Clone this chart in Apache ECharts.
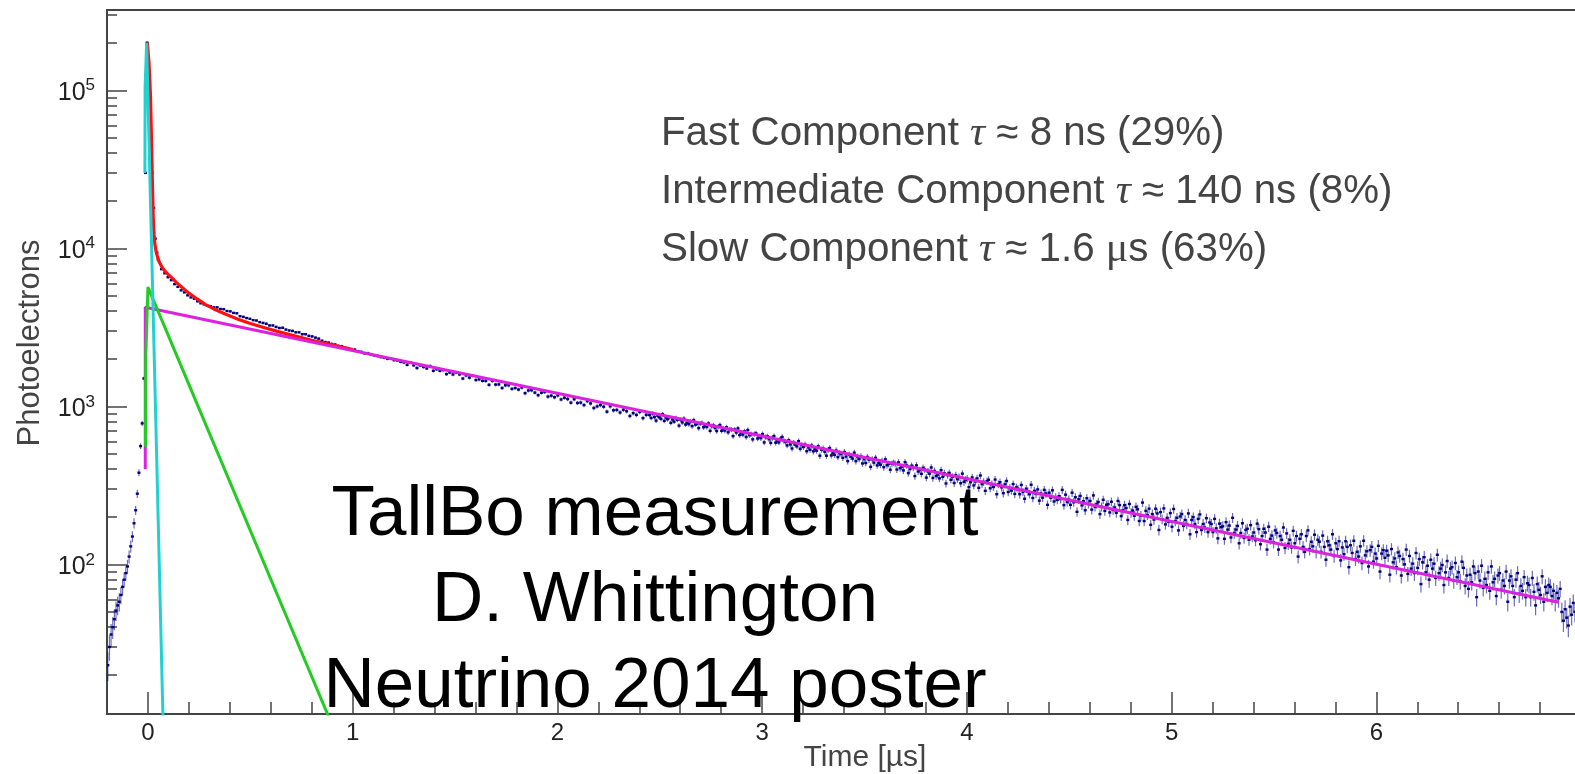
<!DOCTYPE html>
<html>
<head>
<meta charset="utf-8">
<script src="https://cdn.jsdelivr.net/npm/echarts@6/dist/echarts.min.js"></script>
<style>
  html, body { margin: 0; padding: 0; background: #fff; overflow: hidden; width: 1575px; height: 774px; }
  #chart { width: 1700px; height: 774px; }
</style>
</head>
<body>
<div id="chart"></div>
<script>
// Rising edge and prompt peak, 8 ns bins: [time (µs), photoelectrons]
const riseBins = [
  [-0.196, 23], [-0.188, 30], [-0.180, 36], [-0.172, 40], [-0.164, 45],
  [-0.156, 51], [-0.148, 55], [-0.140, 58], [-0.132, 64], [-0.124, 72],
  [-0.116, 80], [-0.108, 88], [-0.100, 97], [-0.092, 112], [-0.084, 130],
  [-0.076, 150], [-0.068, 182], [-0.060, 220], [-0.052, 280], [-0.044, 380],
  [-0.036, 560], [-0.028, 780], [-0.020, 1500], [-0.012, 30000], [-0.004, 200000],
  [0.004, 110000], [0.012, 60000], [0.020, 30000], [0.028, 18000], [0.036, 11500],
  [0.044, 9400]
];

// Early decay: first bin centre (µs), bin width (µs), bin contents
const earlyStart = 0.05;
const earlyStep = 0.016;
const earlyCounts = [
  8450, 7380, 6950, 6560, 6290, 5930, 5700, 5420, 5260, 5040, 4890, 4800, 4620, 4490, 4420, 4330, 4300, 4230, 4230, 4130, 4120, 4010, 3990, 3900, 3880,
  3720, 3680, 3620, 3580, 3510, 3490, 3410, 3370, 3330, 3250, 3250, 3180, 3130, 3140, 3060, 3020, 3000, 2940, 2940, 2860, 2860, 2790, 2770, 2720, 2680,
  2600, 2550, 2530, 2480, 2460, 2410, 2400, 2350, 2330, 2280, 2285, 2230, 2210, 2165, 2170, 2120, 2100, 2080, 2050, 2030, 2000, 2005, 1960, 1950, 1915,
  1896, 1831, 1894, 1818, 1748, 1813, 1774, 1737, 1799, 1678, 1717, 1677, 1696, 1599, 1636, 1591, 1634, 1592, 1499, 1569, 1519, 1560, 1467, 1482, 1450,
  1449, 1368, 1449, 1373, 1376, 1306, 1359, 1358, 1289, 1305, 1277, 1315, 1211, 1260, 1264, 1221, 1176, 1220, 1233, 1152, 1168, 1141, 1172, 1105, 1133,
  1112, 1055, 1109, 1050, 1056, 1018, 1078, 1043, 976, 999, 1018, 994, 925, 1001, 944, 949, 914, 952, 931, 869, 905, 883, 922, 842, 883
];

// Late light: first bin centre (µs), bin width (µs), bin contents
const lateStart = 2.45;
const lateStep = 0.008;
const lateCounts = [
  881, 844, 900, 855, 812, 871, 852, 834, 892, 809, 850, 828, 853, 786, 826, 800, 844, 821, 755, 823, 791, 835, 767, 789, 771,
  804, 749, 818, 767, 776, 728, 778, 785, 737, 757, 740, 779, 700, 749, 758, 729, 698, 744, 761, 700, 720, 703, 737, 685, 716,
  713, 648, 713, 683, 725, 658, 680, 662, 694, 640, 708, 657, 666, 618, 667, 674, 626, 646, 629, 667, 591, 637, 646, 619, 587,
  631, 648, 589, 606, 591, 624, 640, 604, 596, 566, 610, 574, 541, 587, 572, 558, 602, 539, 569, 553, 572, 520, 550, 531, 565,
  519, 538, 524, 559, 487, 532, 541, 516, 487, 529, 544, 489, 507, 493, 525, 477, 506, 499, 472, 514, 481, 450, 493, 480, 467,
  509, 450, 480, 464, 483, 435, 463, 438, 478, 460, 414, 462, 440, 472, 423, 439, 427, 451, 412, 462, 424, 432, 397, 433, 439,
  433, 398, 442, 406, 415, 393, 443, 423, 378, 401, 421, 408, 362, 423, 387, 395, 374, 408, 398, 354, 387, 375, 410, 352, 390,
  362, 370, 350, 394, 358, 377, 325, 367, 379, 343, 358, 327, 367, 346, 357, 326, 375, 333, 342, 349, 308, 331, 355, 316, 335,
  350, 305, 365, 322, 332, 292, 336, 343, 303, 322, 309, 344, 278, 321, 331, 307, 282, 321, 337, 287, 304, 293, 322, 279, 307,
  301, 278, 318, 287, 260, 301, 289, 278, 319, 263, 292, 279, 298, 253, 281, 264, 296, 281, 238, 284, 264, 294, 250, 266, 256,
  270, 259, 296, 237, 276, 248, 257, 238, 284, 247, 266, 215, 258, 271, 236, 251, 220, 262, 241, 252, 222, 273, 231, 240, 248,
  208, 231, 256, 218, 238, 240, 213, 249, 221, 229, 212, 252, 237, 202, 220, 237, 227, 191, 241, 212, 219, 203, 231, 223, 188,
  203, 246, 188, 218, 205, 225, 178, 208, 192, 225, 210, 165, 214, 193, 226, 179, 197, 186, 211, 173, 224, 188, 197, 164, 201,
  208, 175, 191, 180, 210, 155, 191, 199, 180, 160, 194, 207, 165, 180, 171, 196, 160, 184, 180, 160, 194, 169, 146, 181, 172,
  174, 145, 185, 166, 176, 148, 197, 158, 166, 175, 136, 158, 182, 147, 165, 168, 143, 177, 150, 159, 142, 181, 167, 134, 151,
  168, 159, 124, 173, 145, 152, 138, 164, 158, 124, 151, 143, 171, 127, 157, 135, 143, 128, 163, 136, 151, 112, 145, 155, 129,
  120, 151, 164, 125, 139, 130, 154, 120, 143, 139, 120, 152, 129, 107, 140, 132, 124, 155, 113, 136, 125, 140, 106, 128, 116,
  140, 129, 96, 132, 118, 141, 108, 120, 112, 130, 102, 141, 114, 121, 97, 123, 129, 104, 117, 109, 131, 90, 117, 123, 110,
  122, 114, 86, 125, 103, 109, 96, 119, 113, 85, 108, 100, 124, 87, 113, 94, 101, 88, 118, 95, 108, 75, 103, 111, 89,
  98, 80, 107, 94, 101, 82, 115, 88, 94, 99, 74, 89, 105, 82, 94, 96, 79, 102, 83, 89, 78, 104, 95, 73, 85,
  70, 86, 77, 97, 88, 62, 90, 79, 98, 71, 81, 74, 89, 68, 97, 77, 81, 63, 85, 88, 69, 79, 73, 90, 58,
  79, 84, 73, 62, 80, 88, 65, 73, 68, 83, 62, 76, 74, 62, 82, 67, 55, 75, 69, 64, 84, 58, 72, 66, 74,
  72, 63, 68, 58, 66, 61, 70, 50, 44, 52, 46, 41, 54, 48, 57, 50, 45, 52, 47
];

// Fitted curves: [time (µs), photoelectrons]
const fitTotal = [
  [-0.003, 200000], [0.005, 150000], [0.012, 95000], [0.018, 45000], [0.022, 25000],
  [0.026, 15500], [0.030, 12200], [0.034, 10600], [0.040, 9500], [0.048, 8700],
  [0.056, 8150], [0.066, 7700], [0.08, 7250], [0.10, 6800], [0.12, 6450],
  [0.14, 6050], [0.17, 5600], [0.20, 5200], [0.24, 4780], [0.28, 4420],
  [0.33, 4080], [0.38, 3820], [0.44, 3560], [0.50, 3340], [0.57, 3140],
  [0.64, 2960], [0.72, 2780], [0.80, 2620], [0.90, 2450], [1.00, 2290]
];
const fitSlow = [[-0.013, 400], [-0.013, 4240], [6.89, 57.5]];
const fitIntermediate = [[-0.012, 555], [-0.011, 2000], [0.0, 5680], [0.9, 9.6]];
const fitFast = [[-0.0147, 30000], [-0.0138, 105000], [-0.0064, 200000], [0.074, 10]];

// Axis ranges and tick marks
const xRange = [-0.2, 7.2];
const yRange = [11.3, 322000];
const xMajorTicks = [0, 1, 2, 3, 4, 5, 6, 7];
const xMinorTicks = [0.2, 0.4, 0.6, 0.8, 1.2, 1.4, 1.6, 1.8, 2.2, 2.4, 2.6, 2.8, 3.2, 3.4, 3.6, 3.8,
  4.2, 4.4, 4.6, 4.8, 5.2, 5.4, 5.6, 5.8, 6.2, 6.4, 6.6, 6.8, 7.2];
const yMajorTicks = [100, 1000, 10000, 100000];
const yMinorTicks = [20, 30, 40, 50, 60, 70, 80, 90,
  200, 300, 400, 500, 600, 700, 800, 900,
  2000, 3000, 4000, 5000, 6000, 7000, 8000, 9000,
  20000, 30000, 40000, 50000, 60000, 70000, 80000, 90000,
  200000, 300000];

// Text
const xTitle = 'Time [µs]';
const yTitle = 'Photoelectrons';
const componentLines = [
  ['Fast Component ', '8 ns (29%)'],
  ['Intermediate Component ', '140 ns (8%)'],
  ['Slow Component ', '1.6 ', 'μ', 's (63%)']
];
const creditLines = ['TallBo measurement', 'D. Whittington', 'Neutrino 2014 poster'];

const SANS = 'Liberation Sans, Arial, sans-serif';
const SERIF = 'Liberation Serif, Times New Roman, serif';

const histogram = riseBins
  .concat(earlyCounts.map((v, i) => [earlyStart + i * earlyStep, v]))
  .concat(lateCounts.map((v, i) => [lateStart + i * lateStep, v]));

function renderBin(params, api) {
  const x = api.value(0);
  const y = api.value(1);
  const err = Math.sqrt(y); // Poisson uncertainty of the bin
  const p = api.coord([x, y]);
  const hi = api.coord([x, y + err]);
  const lo = api.coord([x, Math.max(y - err, 1)]);
  return {
    type: 'group',
    children: [
      { type: 'line', shape: { x1: p[0], y1: hi[1], x2: p[0], y2: lo[1] },
        style: { stroke: 'rgba(10,10,140,0.6)', lineWidth: 1.2 } },
      { type: 'rect', shape: { x: p[0] - 1.5, y: p[1] - 1.2, width: 3, height: 2.4 },
        style: { fill: '#000080' } }
    ]
  };
}

const axisColor = '#444';
const chart = echarts.init(document.getElementById('chart'), null, { renderer: 'canvas' });

const annotationGraphics = componentLines.map((parts, i) => {
  let text;
  if (parts.length === 2) {
    text = '{a|' + parts[0] + '}{t|τ}{a| ≈ ' + parts[1] + '}';
  } else {
    text = '{a|' + parts[0] + '}{t|τ}{a| ≈ ' + parts[1] + '}{u|' + parts[2] + '}{a|' + parts[3] + '}';
  }
  return {
    type: 'text', x: 661, y: 134 + i * 58, z: 100,
    style: {
      text: text,
      align: 'left', verticalAlign: 'middle',
      rich: {
        a: { fontSize: 40.3, fontFamily: SANS, fill: '#444' },
        t: { fontSize: 42, fontFamily: SERIF, fontStyle: 'italic', fill: '#444' },
        u: { fontSize: 42, fontFamily: SERIF, fill: '#444' }
      }
    }
  };
});

const creditGraphics = creditLines.map((line, i) => ({
  type: 'text', x: 655, y: 515 + i * 86, z: 100,
  style: { text: line, align: 'center', verticalAlign: 'middle', fontSize: 71, fontFamily: SANS, fill: '#000' }
}));

const option = {
  animation: false,
  backgroundColor: '#fff',
  grid: {
    left: 107, right: 78, top: 10, bottom: 60,
    show: true, borderColor: axisColor, borderWidth: 2, backgroundColor: 'transparent',
    containLabel: false, outerBoundsMode: 'none'
  },
  xAxis: [
    {
      type: 'value', min: xRange[0], max: xRange[1], position: 'bottom',
      axisLine: { show: true, onZero: false, lineStyle: { color: axisColor, width: 2 } },
      splitLine: { show: false },
      axisTick: { show: true, inside: true, length: 22, customValues: xMajorTicks, lineStyle: { color: axisColor, width: 1.5 } },
      axisLabel: { customValues: xMajorTicks, color: '#222', fontSize: 24, fontFamily: SANS, margin: 7,
        formatter: v => String(Math.round(Number(v))) }
    },
    {
      type: 'value', min: xRange[0], max: xRange[1], position: 'bottom', offset: 0,
      axisLine: { show: false, onZero: false }, splitLine: { show: false },
      axisTick: { show: true, inside: true, length: 12, customValues: xMinorTicks, lineStyle: { color: axisColor, width: 1.5 } },
      axisLabel: { show: false }
    }
  ],
  yAxis: [
    {
      type: 'log', logBase: 10, min: yRange[0], max: yRange[1], position: 'left',
      axisLine: { show: true, onZero: false, lineStyle: { color: axisColor, width: 2 } },
      splitLine: { show: false },
      axisTick: { show: true, inside: true, length: 20, customValues: yMajorTicks, lineStyle: { color: axisColor, width: 1.5 } },
      axisLabel: {
        customValues: yMajorTicks, margin: 12,
        formatter: v => '{b|10}{s|' + Math.round(Math.log10(Number(v))) + '}',
        rich: {
          b: { fontSize: 25, fontFamily: SANS, color: '#222', verticalAlign: 'bottom', lineHeight: 30 },
          s: { fontSize: 17, fontFamily: SANS, color: '#222', verticalAlign: 'bottom', lineHeight: 30, padding: [0, 0, 11, 0] }
        }
      }
    },
    {
      type: 'log', logBase: 10, min: yRange[0], max: yRange[1], position: 'left', offset: 0,
      axisLine: { show: false, onZero: false }, splitLine: { show: false },
      axisTick: { show: true, inside: true, length: 10, customValues: yMinorTicks, lineStyle: { color: axisColor, width: 1.5 } },
      axisLabel: { show: false }
    }
  ],
  series: [
    {
      name: 'data', type: 'custom', xAxisIndex: 0, yAxisIndex: 0, z: 2, clip: true,
      encode: { x: 0, y: 1 }, data: histogram, renderItem: renderBin
    },
    {
      name: 'total fit', type: 'line', xAxisIndex: 0, yAxisIndex: 0, z: 3, clip: true,
      data: fitTotal, showSymbol: false, symbol: 'none',
      lineStyle: { color: '#ff1010', width: 3.2 }
    },
    {
      name: 'slow', type: 'line', xAxisIndex: 0, yAxisIndex: 0, z: 4, clip: true,
      data: fitSlow, showSymbol: false, symbol: 'none',
      lineStyle: { color: '#dd22dd', width: 3 }
    },
    {
      name: 'intermediate', type: 'line', xAxisIndex: 0, yAxisIndex: 0, z: 5, clip: true,
      data: fitIntermediate, showSymbol: false, symbol: 'none',
      lineStyle: { color: '#22cc22', width: 3 }
    },
    {
      name: 'fast', type: 'line', xAxisIndex: 0, yAxisIndex: 0, z: 6, clip: true,
      data: fitFast, showSymbol: false, symbol: 'none',
      lineStyle: { color: '#22d0d0', width: 3 }
    }
  ],
  graphic: [
    ...annotationGraphics,
    ...creditGraphics,
    {
      type: 'text', x: 865, y: 758, z: 100,
      style: { text: xTitle, align: 'center', verticalAlign: 'middle', fontSize: 30, fontFamily: SANS, fill: '#444' }
    },
    {
      type: 'text', x: 30, y: 343, rotation: Math.PI / 2, z: 100,
      style: { text: yTitle, align: 'center', verticalAlign: 'middle', fontSize: 31, fontFamily: SANS, fill: '#444' }
    }
  ]
};

chart.setOption(option);
</script>
</body>
</html>
